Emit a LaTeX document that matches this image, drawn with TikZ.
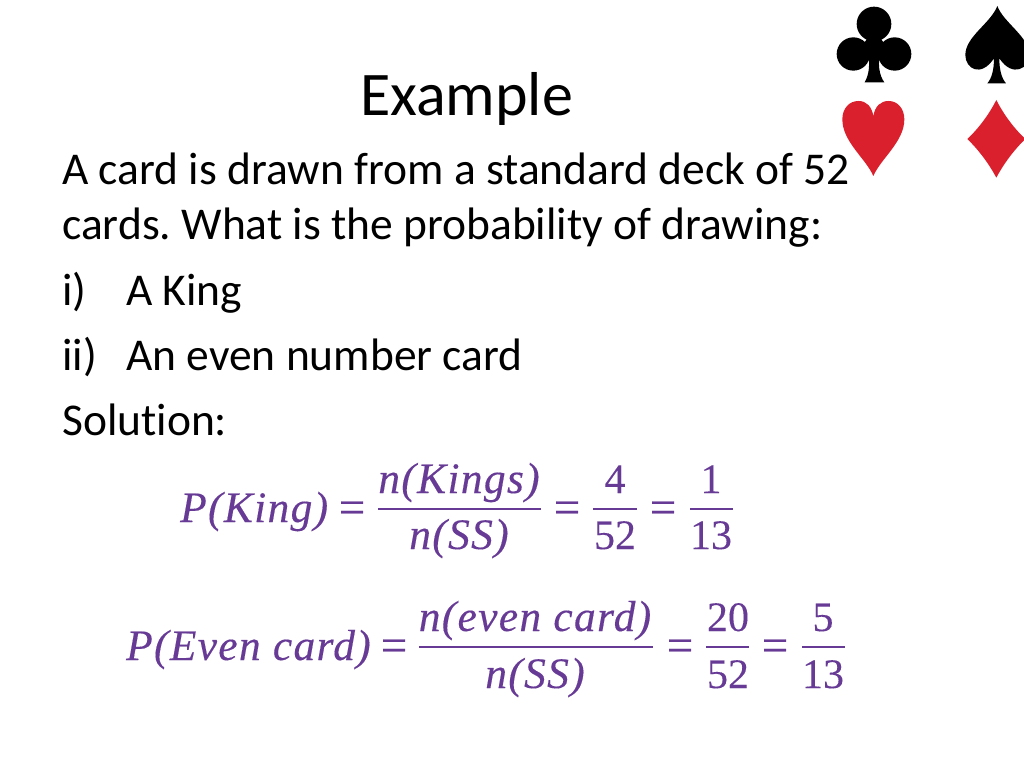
\documentclass[tikz,border=0pt]{standalone}
\usepackage{fontspec}
\setmainfont{Carlito}[Ligatures=NoCommon]
\newfontfamily\eqserif[LetterSpace=3,FakeBold=0.25]{Liberation Serif}
\newfontfamily\eqnum[FakeBold=0.15]{Liberation Serif}
\definecolor{mathpurple}{RGB}{103,58,150}
\definecolor{suitred}{RGB}{218,32,44}
\tikzset{
  x=1pt,y=-1pt,
  bodytext/.style={anchor=base west,inner sep=0pt,font=\fontsize{45.5}{50}\selectfont\frenchspacing,text=black},
  titletext/.style={anchor=base west,inner sep=0pt,font=\fontsize{62}{64}\selectfont,text=black},
  mathitem/.style={anchor=base,inner sep=0pt,text=mathpurple,font=\fontsize{43.5}{46}\selectfont\eqserif\itshape},
  mathnum/.style={anchor=base,inner sep=0pt,text=mathpurple,font=\fontsize{42}{46}\selectfont\eqnum},
  matheq/.style={anchor=base,inner sep=0pt,text=mathpurple,font=\fontsize{47}{46}\selectfont\eqnum},
  fracbar/.style={draw=mathpurple,line width=2.2pt},
  suit/.style={shift={(824,0)},x=0.3333pt,y=-0.3333pt}
}
\begin{document}
\begin{tikzpicture}
\useasboundingbox (0,0) rectangle (1024,768);
\fill[white] (0,0) rectangle (1024,768);
% suits
\begin{scope}[suit]
 \fill[black] (150,72) circle[radius=52];
 \fill[black] (88,162) circle[radius=50];
 \fill[black] (212,162) circle[radius=50];
 \fill[black] (150,138) circle[radius=30];
 \fill[black] (130,150) -- (170,150) .. controls (160,190) and (165,225) .. (181,247) -- (122,247) .. controls (135,225) and (140,190) .. (130,150) -- cycle;
 \clip (-40,-10) rectangle (600,600);
 \fill[black] (520,18) .. controls (500,70) and (424,110) .. (424,165) .. controls (424,205) and (470,235) .. (510,175) .. controls (510,210) and (503,235) .. (490,250) -- (546,250) .. controls (533,235) and (526,210) .. (526,175) .. controls (566,235) and (616,205) .. (616,165) .. controls (616,110) and (540,70) .. (520,18) -- cycle;
 \fill[suitred] (148,528) .. controls (125,475) and (55,425) .. (55,358) .. controls (55,325) and (76,303) .. (103,303) .. controls (128,303) and (143,320) .. (148,348) .. controls (153,320) and (168,303) .. (194,303) .. controls (220,303) and (241,325) .. (241,358) .. controls (241,425) and (171,475) .. (148,528) -- cycle;
 \fill[suitred] (517,300) .. controls (540,345) and (570,385) .. (604,417) .. controls (570,450) and (540,490) .. (517,533) .. controls (494,490) and (464,450) .. (430,417) .. controls (464,385) and (494,345) .. (517,300) -- cycle;
\end{scope}
% text
\node[titletext] (title) at (360,115) {Example};
\node[bodytext] (l1) at (62,184) {A card is drawn from a standard deck of 52};
\node[bodytext] (l2) at (62,239) {cards. What is the probability of drawing:};
\node[bodytext] (i1) at (62,305) {i)};
\node[bodytext] (i2) at (126,305) {A King};
\node[bodytext] (ii1) at (62,370) {ii)};
\node[bodytext] (ii2) at (126,370) {An even number card};
\node[bodytext] (sol) at (62,435) {Solution:};
% first equation
\node[mathitem,anchor=base west] (a1) at (180,522) {P(King)};
\node[matheq] (a2) at (352,523) {=};
\node[mathitem] (a3) at (459,493) {n(Kings)};
\node[mathitem] (a4) at (459,549) {n(SS)};
\draw[fracbar] (378,509) -- (541,509);
\node[matheq] (a5) at (567,523) {=};
\node[mathnum] (a6) at (615,493) {4};
\node[mathnum] (a7) at (615,549) {52};
\draw[fracbar] (593,509) -- (637,509);
\node[matheq] (a8) at (663,523) {=};
\node[mathnum] (a9) at (711,493) {1};
\node[mathnum] (a10) at (711,549) {13};
\draw[fracbar] (690,509) -- (733,509);
% second equation
\node[mathitem,anchor=base west] (b1) at (126,660) {P(Even card)};
\node[matheq] (b2) at (394,661) {=};
\node[mathitem] (b3) at (535,631) {n(even card)};
\node[mathitem] (b4) at (535,688) {n(SS)};
\draw[fracbar] (419,647) -- (653,647);
\node[matheq] (b5) at (680,661) {=};
\node[mathnum] (b6) at (728,631) {20};
\node[mathnum] (b7) at (728,688) {52};
\draw[fracbar] (706,647) -- (749,647);
\node[matheq] (b8) at (775,661) {=};
\node[mathnum] (b9) at (823,631) {5};
\node[mathnum] (b10) at (823,688) {13};
\draw[fracbar] (802,647) -- (845,647);
\end{tikzpicture}
\end{document}
